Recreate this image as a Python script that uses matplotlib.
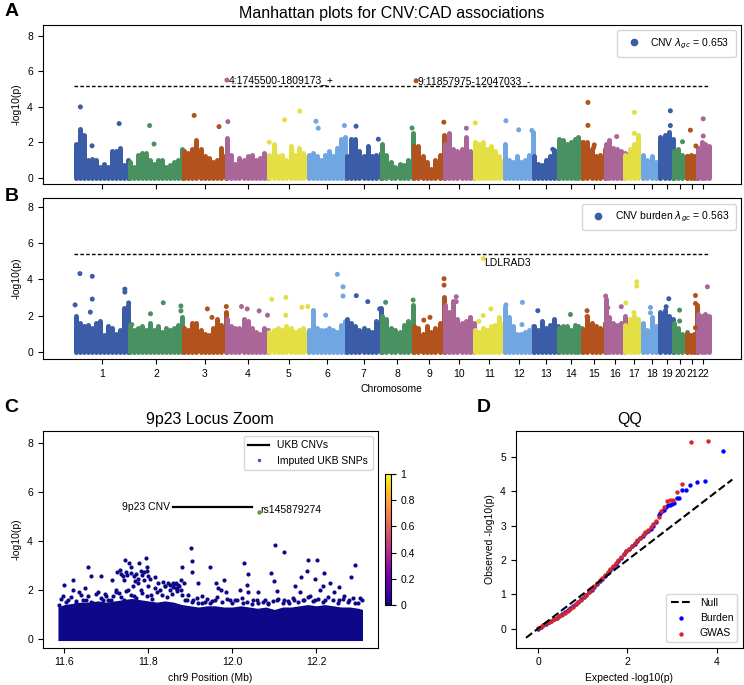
import numpy as np
import matplotlib
matplotlib.use('Agg')
import matplotlib.pyplot as plt
from matplotlib.lines import Line2D
from matplotlib import cm, colors as mcolors

plt.rcParams['font.family'] = ['Liberation Sans', 'DejaVu Sans']
plt.rcParams['font.size'] = 7.5

# ---- chromosome layout (Mb) ----
chrom_len = [249.3, 243.2, 198.0, 191.2, 180.9, 171.1, 159.1, 146.4, 141.2, 135.5, 135.0,
             133.9, 115.2, 107.3, 102.5, 90.4, 81.2, 78.1, 59.1, 63.0, 48.1, 51.3]
chrom_names = [str(i) for i in range(1, 23)]
palette = ['#3b5ca6', '#4a9161', '#b2521d', '#aa6699', '#e5df46', '#70a6e2']

# ---- panel A: CNV association, dense profile per chromosome (-log10 p) ----
cnv_env = [
    [1.9, 2.75, 2.4, 1.0, 1.05, 1.0, 0.6, 0.8, 0.6, 1.5, 1.5, 1.7, 0.7, 1.0],
    [0.9, 0.6, 1.3, 1.4, 1.4, 1.0, 0.8, 1.0, 1.0, 0.6, 0.7, 0.9, 1.0, 1.6],
    [1.5, 1.4, 1.6, 2.1, 1.6, 1.2, 1.1, 0.9, 1.0, 1.7, 1.3],
    [2.25, 1.3, 0.8, 1.1, 1.0, 1.2, 1.3, 1.0, 1.1, 1.4, 1.0],
    [1.3, 1.9, 1.2, 1.3, 1.0, 1.8, 1.3, 1.7, 1.4, 1.2],
    [1.3, 1.4, 1.2, 1.0, 1.3, 1.5, 1.2, 1.7, 2.2, 2.3],
    [1.2, 2.2, 2.2, 1.5, 1.2, 1.8, 1.2, 1.3, 1.4],
    [1.9, 1.3, 0.9, 0.6, 0.8, 0.7, 1.0, 2.5],
    [1.8, 1.8, 1.2, 0.9, 0.5, 1.0, 1.3, 2.4],
    [1.9, 2.5, 1.6, 1.5, 1.6, 2.3, 1.5, 1.4],
    [2.0, 1.9, 2.0, 1.6, 1.8, 1.5, 1.2, 1.0],
    [1.9, 1.0, 0.9, 1.2, 0.9, 1.0, 1.3, 2.6],
    [1.2, 0.8, 0.7, 1.0, 1.2, 1.55, 0.7],
    [2.2, 2.1, 1.9, 2.0, 2.2, 2.3, 2.0],
    [2.0, 2.0, 1.6, 1.2, 1.3, 1.6],
    [1.9, 2.1, 1.7, 1.6, 1.5, 1.4],
    [1.3, 1.6, 1.9, 2.4, 1.2],
    [1.3, 1.0, 1.2, 0.9, 1.3],
    [2.3, 2.4, 2.6, 2.2],
    [1.5, 1.6, 1.3, 1.2],
    [1.2, 1.3, 1.2, 1.3],
    [1.7, 2.0, 1.9, 1.8],
]
cnv_out_chr = [1, 1, 1, 2, 2, 3, 3, 4, 5, 5, 5, 6, 6, 6, 7, 7, 8, 9, 10, 11, 12, 12, 12,
               13, 15, 15, 15, 15, 16, 17, 17, 19, 19, 20, 21, 21, 22, 22]
cnv_out_pos = [27, 203, 80, 92, 112, 51, 164, 6, 3, 72, 141, 34, 44, 163, 45, 146, 140, 138, 99, 4, 8, 66, 126,
               87, 24, 24, 50, 53, 52, 42, 42, 46, 46, 42, 15, 40, 25, 25]
cnv_out_val = [3.99, 3.05, 1.80, 2.94, 1.90, 3.51, 2.88, 3.16, 2.0, 3.26, 3.75, 3.18, 2.79, 2.94, 2.90, 2.17,
               2.80, 3.13, 2.79, 3.09, 3.21, 2.70, 2.66, 1.60, 4.24, 2.95, 1.70, 1.85, 2.32, 3.68, 2.50,
               3.77, 2.94, 2.03, 2.68, 1.79, 3.32, 2.35]
cnv_hit_chr = [4, 9]
cnv_hit_pos = [1.78, 11.95]
cnv_hit_val = [5.50, 5.46]
cnv_hit_label = ['4:1745500-1809173_+', '9:11857975-12047033_-']
cnv_thresh = 5.14

# ---- panel B: CNV burden ----
bur_env = [
    [2.0, 1.6, 1.4, 1.5, 1.3, 1.6, 1.7, 0.9, 1.4, 1.3, 1.0, 1.2, 2.4, 2.6],
    [1.5, 1.2, 1.3, 1.4, 1.2, 1.6, 1.2, 1.4, 1.1, 1.3, 1.2, 1.3, 1.5, 1.9],
    [1.3, 1.2, 1.6, 1.6, 1.2, 1.0, 0.9, 1.3, 1.8, 1.5, 2.2],
    [1.8, 1.4, 1.3, 1.3, 1.8, 1.7, 1.3, 1.1, 1.0, 1.3, 1.2],
    [1.1, 1.2, 1.3, 1.2, 1.4, 1.3, 1.1, 1.2, 1.3, 1.1],
    [1.2, 2.3, 1.3, 1.2, 1.2, 1.3, 1.2, 1.1, 1.5, 1.7],
    [1.8, 1.6, 1.4, 1.2, 1.3, 1.2, 1.1, 1.7, 2.4],
    [2.0, 1.8, 1.3, 1.2, 1.1, 1.5, 1.7, 2.6],
    [1.4, 1.3, 1.0, 1.4, 1.1, 1.3, 1.6, 3.0],
    [2.6, 2.2, 2.8, 1.8, 1.6, 1.7, 1.9, 1.6],
    [1.2, 1.1, 1.3, 1.2, 1.4, 1.5, 1.9, 1.6],
    [2.5, 1.9, 1.4, 1.0, 1.0, 1.1, 1.2, 1.4],
    [1.4, 1.2, 1.7, 1.3, 1.5, 1.8, 1.4],
    [1.3, 1.4, 1.4, 1.2, 1.5, 1.4, 1.3],
    [1.2, 2.0, 1.6, 1.4, 1.3, 1.6],
    [2.9, 1.9, 1.6, 1.5, 1.6, 2.0],
    [1.5, 1.8, 2.0, 1.8, 1.4],
    [1.6, 1.2, 1.9, 1.4, 1.1],
    [2.2, 2.3, 2.0, 1.8],
    [1.6, 1.3, 1.0, 1.1],
    [1.0, 0.9, 1.0, 2.6],
    [2.1, 2.0, 2.1, 2.0],
]
bur_out_chr = [1, 1, 1, 1, 1, 1, 1, 1, 2, 2, 2, 2, 2, 3, 3, 3, 4, 4, 4, 4, 5, 5, 5, 5, 5, 6, 6, 6, 6,
               7, 7, 7, 8, 8, 9, 9, 9, 9, 10, 10, 11, 11, 11, 12, 12, 12, 13, 14, 15, 15, 16, 16, 16,
               17, 17, 17, 17, 18, 18, 19, 19, 20, 20, 21, 21, 21, 22]
bur_out_pos = [25, 81, 81, 72, 3, 229, 229, 246, 11, 96, 154, 234, 234, 111, 132, 197, 68, 94, 148, 186,
               14, 78, 78, 151, 178, 78, 131, 157, 157, 46, 98, 152, 20, 145, 47, 75, 139, 139, 53, 53,
               20, 40, 75, 8, 83, 81, 19, 52, 20, 20, 2, 12, 73, 3, 40, 53, 53, 34, 34, 39, 27, 29, 29,
               38, 38, 38, 44]
bur_out_val = [4.32, 4.17, 2.91, 2.19, 2.59, 3.46, 3.30, 2.70, 1.50, 2.10, 2.71, 2.53, 2.26, 2.37, 1.90,
               2.50, 2.50, 2.37, 2.26, 2.02, 2.90, 3.00, 2.02, 2.46, 2.50, 2.02, 4.28, 3.59, 3.08, 3.10,
               2.77, 2.37, 2.73, 2.86, 1.75, 1.90, 4.04, 3.68, 3.04, 2.77, 1.68, 2.00, 2.37, 2.59, 2.73,
               1.50, 2.27, 2.06, 2.27, 1.93, 3.08, 2.44, 2.49, 2.70, 2.17, 3.87, 3.63, 2.45, 2.15, 2.93,
               2.49, 2.30, 1.70, 3.11, 2.67, 1.33, 3.59]
bur_hit_chr = [11]
bur_hit_pos = [37.0]
bur_hit_val = [5.19]
bur_hit_label = ['LDLRAD3']
bur_thresh = 5.38

# ---- panel C: 9p23 locus (Mb, -log10 p) ----
band_pos = [11.585, 11.60, 11.62, 11.64, 11.66, 11.68, 11.70, 11.72, 11.74, 11.76, 11.78, 11.80,
            11.82, 11.84, 11.86, 11.88, 11.90, 11.92, 11.94, 11.96, 11.98, 12.00, 12.02, 12.04,
            12.06, 12.08, 12.10, 12.12, 12.14, 12.16, 12.18, 12.20, 12.22, 12.24, 12.26, 12.28,
            12.30, 12.31]
band_top = [1.30, 1.40, 1.45, 1.50, 1.50, 1.55, 1.50, 1.55, 1.60, 1.65, 1.60, 1.55, 1.50, 1.55,
            1.50, 1.40, 1.35, 1.30, 1.35, 1.35, 1.30, 1.30, 1.35, 1.30, 1.25, 1.30, 1.20, 1.30,
            1.30, 1.35, 1.40, 1.35, 1.40, 1.35, 1.30, 1.30, 1.25, 1.20]
snp_pos = [11.657, 11.600, 11.622, 11.650, 11.664, 11.687, 11.714, 11.726, 11.732, 11.745, 11.754,
           11.758, 11.778, 11.782, 11.794, 11.796, 11.798, 11.817, 11.835, 11.847, 11.865, 11.871,
           11.877, 11.880, 11.902, 11.905, 11.903, 11.919, 11.948, 11.961, 11.980, 12.028, 12.037,
           12.036, 12.062, 12.091, 12.102, 12.100, 12.106, 12.123, 12.150, 12.163, 12.177, 12.181,
           12.197, 12.202, 12.216, 12.218, 12.255, 12.283, 12.291, 12.303,
           11.735, 11.740, 11.748, 11.750, 11.760, 11.765, 11.770, 11.775, 11.785, 11.790, 11.800,
           11.805, 11.742, 11.768, 11.840, 11.852, 11.858, 11.862, 11.868, 11.874, 11.885,
           11.588, 11.596, 11.608, 11.620, 11.628, 11.636, 11.644, 11.656, 11.668, 11.680, 11.692,
           11.696, 11.704, 11.716, 11.724, 11.731, 11.743, 11.751, 11.763, 11.767, 11.775, 11.783,
           11.791, 11.799, 11.807, 11.815, 11.823, 11.829, 11.839, 11.851, 11.859, 11.867, 11.879,
           11.887, 11.895, 11.907, 11.919, 11.927, 11.935, 11.946, 11.958, 11.966, 11.974, 11.986,
           11.994, 12.006, 12.018, 12.026, 12.038, 12.050, 12.062, 12.078, 12.086, 12.106, 12.122,
           12.134, 12.146, 12.162, 12.170, 12.186, 12.197, 12.209, 12.220, 12.233, 12.241, 12.253,
           12.265, 12.277, 12.293, 12.309,
           11.592, 11.604, 11.616, 11.628, 11.640, 11.652, 11.664, 11.676, 11.688, 11.700, 11.712,
           11.724, 11.736, 11.748, 11.760, 11.772, 11.784, 11.796, 11.808, 11.820, 11.832, 11.844,
           11.856, 11.868, 11.880, 11.892, 11.904, 11.916, 11.928, 11.940, 11.952, 11.964, 11.976,
           11.988, 12.000, 12.012, 12.024, 12.036, 12.048, 12.060, 12.072, 12.084, 12.096, 12.108,
           12.120, 12.132, 12.144, 12.156, 12.168, 12.180, 12.192, 12.204, 12.216, 12.228, 12.240,
           12.252, 12.264, 12.276, 12.288, 12.300]
snp_logp = [2.93, 2.20, 2.39, 2.07, 2.56, 2.56, 2.41, 2.72, 2.82, 3.21, 3.09,
            2.94, 3.09, 2.78, 3.29, 2.95, 2.79, 2.53, 2.34, 2.27, 2.27, 2.20,
            2.41, 2.93, 3.73, 3.18, 2.75, 2.27, 2.94, 2.27, 2.39, 3.09, 2.65,
            2.20, 1.90, 2.68, 3.82, 2.38, 1.97, 3.54, 2.16, 2.52, 2.76, 3.24,
            2.45, 3.20, 2.14, 2.67, 2.10, 2.54, 3.01, 1.67,
            2.65, 2.55, 2.75, 2.60, 2.70, 2.55, 2.65, 2.45, 2.60, 2.75, 2.55,
            2.45, 2.40, 2.35, 2.15, 2.20, 2.10, 2.25, 2.05, 2.15, 2.30,
            1.39, 1.73, 1.59, 2.00, 1.46, 1.93, 1.59, 1.73, 1.46, 1.93, 1.59,
            1.84, 1.59, 1.73, 2.00, 1.86, 1.59, 2.00, 2.14, 1.73, 2.27, 2.00,
            2.41, 2.14, 1.80, 2.07, 2.27, 2.00, 2.14, 2.00, 2.27, 2.07, 2.00,
            1.59, 1.80, 1.59, 1.46, 1.73, 1.52, 1.46, 1.59, 2.07, 2.00, 1.93,
            1.59, 1.59, 2.00, 1.46, 1.93, 1.59, 1.46, 1.59, 1.46, 1.59, 1.59,
            1.46, 1.59, 1.93, 1.59, 1.73, 1.59, 2.00, 1.59, 2.27, 1.93, 1.59,
            1.73, 1.59, 1.46, 1.59,
            1.62, 1.50, 1.70, 1.55, 1.78, 1.60, 1.52, 1.85, 1.66, 1.74, 1.58,
            1.90, 1.72, 1.95, 1.80, 1.66, 1.88, 1.75, 1.62, 1.92, 1.80, 1.70,
            1.85, 1.95, 1.78, 1.60, 1.52, 1.66, 1.48, 1.62, 1.55, 1.70, 1.50,
            1.64, 1.45, 1.58, 1.68, 1.52, 1.44, 1.60, 1.50, 1.42, 1.56, 1.62,
            1.48, 1.54, 1.66, 1.50, 1.60, 1.72, 1.55, 1.64, 1.50, 1.70, 1.58,
            1.46, 1.62, 1.52, 1.66, 1.48]
cnv_span = [11.857975, 12.047033]
cnv_span_val = 5.40
lead_snp_pos = 12.064
lead_snp_val = 5.17

# ---- panel D: QQ ----
qq_exp = [0.00, 0.06, 0.12, 0.18, 0.24, 0.30, 0.36, 0.42, 0.48, 0.54, 0.60, 0.66, 0.72, 0.78,
          0.84, 0.90, 0.96, 1.02, 1.08, 1.14, 1.20, 1.26, 1.32, 1.38, 1.44, 1.50, 1.56, 1.62,
          1.68, 1.74, 1.80, 1.86, 1.92, 1.98, 2.04, 2.10, 2.16, 2.22, 2.28, 2.34, 2.40, 2.46,
          2.52, 2.58, 2.64, 2.70]
qq_burden = [0.00, 0.05, 0.09, 0.14, 0.18, 0.23, 0.27, 0.32, 0.37, 0.42, 0.47, 0.53, 0.59, 0.65,
             0.72, 0.78, 0.85, 0.92, 0.99, 1.06, 1.14, 1.22, 1.30, 1.38, 1.46, 1.54, 1.62, 1.71,
             1.80, 1.89, 1.98, 2.07, 2.17, 2.26, 2.33, 2.40, 2.47, 2.55, 2.63, 2.70, 2.78, 2.85,
             2.92, 3.00, 3.10, 3.30]
qq_gwas = [0.02, 0.06, 0.10, 0.15, 0.19, 0.23, 0.27, 0.31, 0.36, 0.41, 0.46, 0.52, 0.58, 0.64,
           0.71, 0.77, 0.84, 0.91, 0.99, 1.07, 1.15, 1.24, 1.32, 1.41, 1.49, 1.57, 1.65, 1.74,
           1.83, 1.92, 2.01, 2.09, 2.18, 2.26, 2.33, 2.41, 2.49, 2.57, 2.65, 2.73, 2.81, 2.89,
           2.97, 3.06, 3.15, 3.25]
qq_burden_tail_exp = [2.74, 2.78, 2.82, 2.86, 2.90, 2.95, 3.00, 3.04, 3.12, 3.16, 3.23, 3.31, 3.40, 3.55, 3.74, 4.13]
qq_burden_tail_obs = [3.38, 3.42, 3.45, 3.55, 3.60, 3.62, 3.64, 3.66, 3.80, 3.82, 4.03, 4.04, 4.18, 4.27, 4.31, 5.18]
qq_gwas_tail_exp = [2.76, 2.81, 2.88, 2.96, 3.03, 3.10, 3.23, 3.43, 3.80]
qq_gwas_tail_obs = [3.42, 3.55, 3.72, 3.74, 3.74, 3.98, 4.22, 5.44, 5.48]
null_range = [-0.27, 4.35]


def manhattan(ax, env, out_chr, out_pos, out_val, hit_chr, hit_pos, hit_val, hit_label,
              thresh, legend_label, text_va):
    starts = np.concatenate([[0], np.cumsum(chrom_len)[:-1]])
    for i, vals in enumerate(env):
        xs = starts[i] + np.linspace(0.02, 0.98, len(vals)) * chrom_len[i]
        lc = ax.vlines(xs, 0, vals, colors=palette[i % 6], lw=3.6)
        lc.set_capstyle('round')
    oc = np.array(out_chr) - 1
    ax.scatter(starts[oc] + np.array(out_pos), out_val, s=13, c=[palette[k % 6] for k in oc],
               linewidths=0, zorder=3)
    hc = np.array(hit_chr) - 1
    hx = starts[hc] + np.array(hit_pos)
    ax.scatter(hx, hit_val, s=13, c=[palette[k % 6] for k in hc], linewidths=0, zorder=3)
    for x, y, t in zip(hx, hit_val, hit_label):
        ax.text(x + 8, y, t, fontsize=7.5, ha='left', va=text_va)
    total = sum(chrom_len)
    ax.hlines(thresh, 0, total, colors='k', lw=1, linestyles=(0, (2.6, 1.6)))
    ax.set_xlim(-0.05 * total, 1.05 * total)
    ax.set_xticks(starts + np.array(chrom_len) / 2)
    ax.set_yticks([0, 2, 4, 6, 8])
    ax.set_ylabel('-log10(p)')
    handle = Line2D([], [], ls='', marker='o', ms=4.5, color=palette[0])
    ax.legend([handle], [legend_label], loc='upper right', fontsize=7.5, handletextpad=0.6,
              borderpad=0.6)


fig = plt.figure(figsize=(7.44, 6.85), dpi=100)
axA = fig.add_axes([0.0574, 0.7309, 0.9382, 0.2331])
axB = fig.add_axes([0.0574, 0.4759, 0.9382, 0.2346])
axC = fig.add_axes([0.0574, 0.0545, 0.4503, 0.3164])
cax = fig.add_axes([0.5175, 0.1168, 0.0074, 0.1912])
axD = fig.add_axes([0.6931, 0.0545, 0.3051, 0.3164])

manhattan(axA, cnv_env, cnv_out_chr, cnv_out_pos, cnv_out_val, cnv_hit_chr, cnv_hit_pos,
          cnv_hit_val, cnv_hit_label, cnv_thresh, r'CNV $\lambda_{gc}$ = 0.653', 'center')
axA.set_ylim(-0.37, 8.62)
axA.set_xticklabels([])
axA.set_title('Manhattan plots for CNV:CAD associations', fontsize=11.5, pad=5)

manhattan(axB, bur_env, bur_out_chr, bur_out_pos, bur_out_val, bur_hit_chr, bur_hit_pos,
          bur_hit_val, bur_hit_label, bur_thresh, r'CNV burden $\lambda_{gc}$ = 0.563', 'top')
axB.set_ylim(-0.40, 8.48)
axB.set_xticklabels(chrom_names)
axB.set_xlabel('Chromosome')

# panel C
navy = plt.cm.plasma(0.0)
axC.fill_between(band_pos, -0.07, band_top, color=navy, lw=0)
axC.scatter(snp_pos, snp_logp, s=9, color=navy, linewidths=0)
axC.plot(cnv_span, [cnv_span_val, cnv_span_val], color='k', lw=1.6)
axC.scatter([lead_snp_pos], [lead_snp_val], s=10, color='#5c9c3c', linewidths=0, zorder=4)
axC.text(cnv_span[0] - 0.006, cnv_span_val, '9p23 CNV', ha='right', va='center', fontsize=7.5)
axC.text(lead_snp_pos + 0.003, lead_snp_val + 0.1, 'rs145879274', ha='left', va='center', fontsize=7.5)
axC.set_ylim(-0.36, 8.49)
axC.set_yticks([0, 2, 4, 6, 8])
axC.set_xticks([11.6, 11.8, 12.0, 12.2])
axC.set_xlabel('chr9 Position (Mb)')
axC.set_ylabel('-log10(p)')
axC.set_title('9p23 Locus Zoom', fontsize=11.5, pad=5)
hC = [Line2D([], [], color='k', lw=1.6), Line2D([], [], ls='', marker='.', ms=3, color=palette[0])]
axC.legend(hC, ['UKB CNVs', 'Imputed UKB SNPs'], loc='upper right', fontsize=7.5)

sm = cm.ScalarMappable(norm=mcolors.Normalize(0, 1), cmap='plasma')
cb = fig.colorbar(sm, cax=cax, ticks=[0, 0.2, 0.4, 0.6, 0.8, 1])
cb.ax.set_yticklabels(['0', '0.2', '0.4', '0.6', '0.8', '1'])
cb.ax.tick_params(labelsize=7.5)

# panel D
axD.plot(null_range, null_range, color='k', ls='--', lw=1.5, label='Null')
axD.scatter(qq_exp + qq_burden_tail_exp, qq_burden + qq_burden_tail_obs, s=10, color='blue',
            linewidths=0, label='Burden')
axD.scatter(qq_exp + qq_gwas_tail_exp, qq_gwas + qq_gwas_tail_obs, s=10, color='#d62728',
            linewidths=0, label='GWAS')
axD.set_xticks([0, 2, 4])
axD.set_yticks([0, 1, 2, 3, 4, 5])
axD.set_xlabel('Expected -log10(p)')
axD.set_ylabel('Observed -log10(p)')
axD.set_title('QQ', fontsize=11.5, pad=5)
axD.legend(loc='lower right', fontsize=7.5)

for lab, x, y in [('A', 0.006, 0.995), ('B', 0.006, 0.725), ('C', 0.006, 0.418), ('D', 0.641, 0.418)]:
    fig.text(x, y, lab, fontsize=14, fontweight='bold', va='top')

fig.savefig('out.png', dpi=100)
